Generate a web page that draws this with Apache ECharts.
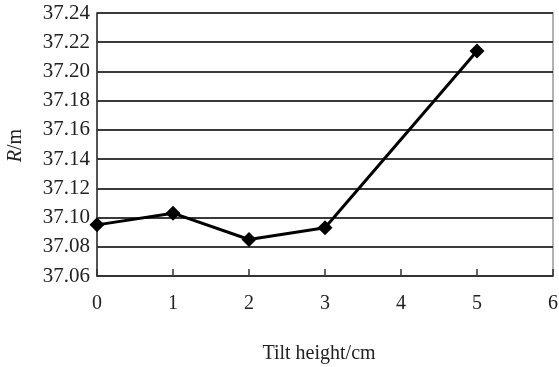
<!DOCTYPE html>
<html>
<head>
<meta charset="utf-8">
<script src="https://cdn.jsdelivr.net/npm/echarts@6/dist/echarts.min.js"></script>
<style>html,body{margin:0;padding:0;background:#fff;}#c{width:559px;height:367px;}</style>
</head>
<body>
<div id="c"></div>
<script>
var tiltHeights = [0, 1, 2, 3, 5];
var radiusValues = [37.095, 37.103, 37.085, 37.093, 37.214];
var xTicks = [0, 1, 2, 3, 4, 5, 6];
var yTicks = [37.06, 37.08, 37.10, 37.12, 37.14, 37.16, 37.18, 37.20, 37.22, 37.24];

var font = '"Liberation Serif", "Times New Roman", serif';
var chart = echarts.init(document.getElementById('c'));
chart.setOption({
  animation: false,
  backgroundColor: '#fff',
  grid: { left: 97, right: 6, top: 13, bottom: 91, containLabel: false, outerBoundsMode: 'none',
    show: true, borderColor: '#999', borderWidth: 1.5 },
  xAxis: {
    type: 'value', min: xTicks[0], max: xTicks[xTicks.length - 1], interval: 1,
    axisLine: { show: true, lineStyle: { color: '#333', width: 1.5 } },
    axisTick: { show: true, inside: true, length: 7, lineStyle: { color: '#333', width: 1.5 } },
    splitLine: { show: false },
    axisLabel: { color: '#222', fontFamily: font, fontSize: 20, margin: 18 },
    name: 'Tilt height/cm', nameLocation: 'middle', nameGap: 68,
    nameTextStyle: { color: '#222', fontFamily: font, fontSize: 20, padding: [0, 12, 0, 0] }
  },
  yAxis: {
    type: 'value', min: yTicks[0], max: yTicks[yTicks.length - 1], interval: 0.02,
    axisLine: { show: true, lineStyle: { color: '#333', width: 1.5 } },
    axisTick: { show: false },
    splitLine: { show: true, lineStyle: { color: '#3a3a3a', width: 2 } },
    axisLabel: { color: '#222', fontFamily: font, fontSize: 21, margin: 7,
      formatter: function (v) { return v.toFixed(2); } },
    name: '{i|R}{n|/m}', nameLocation: 'middle', nameGap: 71, nameRotate: 90,
    nameTextStyle: { padding: [0, 2, 0, 0], fontFamily: font, fontSize: 20,
      rich: { i: { fontFamily: font, fontSize: 20, fontStyle: 'italic', color: '#222' },
              n: { fontFamily: font, fontSize: 20, color: '#222' } } }
  },
  series: [{
    type: 'line',
    data: tiltHeights.map(function (x, i) { return [x, radiusValues[i]]; }),
    symbol: 'diamond', symbolSize: 15,
    itemStyle: { color: '#000' },
    lineStyle: { color: '#000', width: 3 }
  }]
});
</script>
</body>
</html>
